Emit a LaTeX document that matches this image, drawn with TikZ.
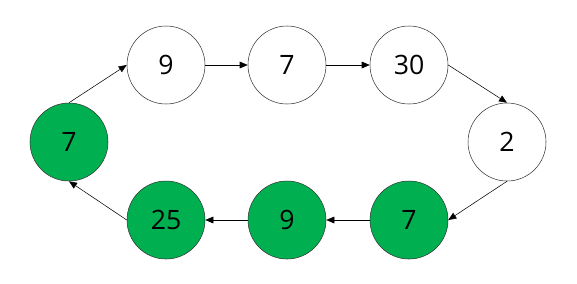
\documentclass[tikz,border=0pt]{standalone}
\usepackage{fontspec}
\setmainfont{Open Sans}
\usetikzlibrary{arrows.meta}
\definecolor{nodegreen}{HTML}{00B050}
\tikzset{
    elem/.style={circle, draw=black!80, thin, minimum size=58.5pt, inner sep=0pt, font=\fontsize{20}{24}\selectfont},
    done/.style={elem, fill=nodegreen},
    link/.style={-{Triangle[length=6pt, width=5pt]}, thin}
}

\begin{document}
\begin{tikzpicture}[x=0.75pt, y=-0.75pt]
    \useasboundingbox (0,0) rectangle (577,283);

    \node[elem] (t1) at (166,65) {9};
    \node[elem] (t2) at (287,65) {7};
    \node[elem] (t3) at (409,65) {30};
    \node[elem] (r)  at (507,142) {2};
    \node[done] (b3) at (409,220) {7};
    \node[done] (b2) at (287,220) {9};
    \node[done] (b1) at (166,220) {25};
    \node[done] (l)  at (69,142) {7};

    \draw[link] (l.north) -- (t1.west);
    \draw[link] (t1) -- (t2);
    \draw[link] (t2) -- (t3);
    \draw[link] (t3.east) -- (r.north);
    \draw[link] (r.south) -- (b3.east);
    \draw[link] (b3) -- (b2);
    \draw[link] (b2) -- (b1);
    \draw[link] (b1.west) -- (l.south);
\end{tikzpicture}
\end{document}
